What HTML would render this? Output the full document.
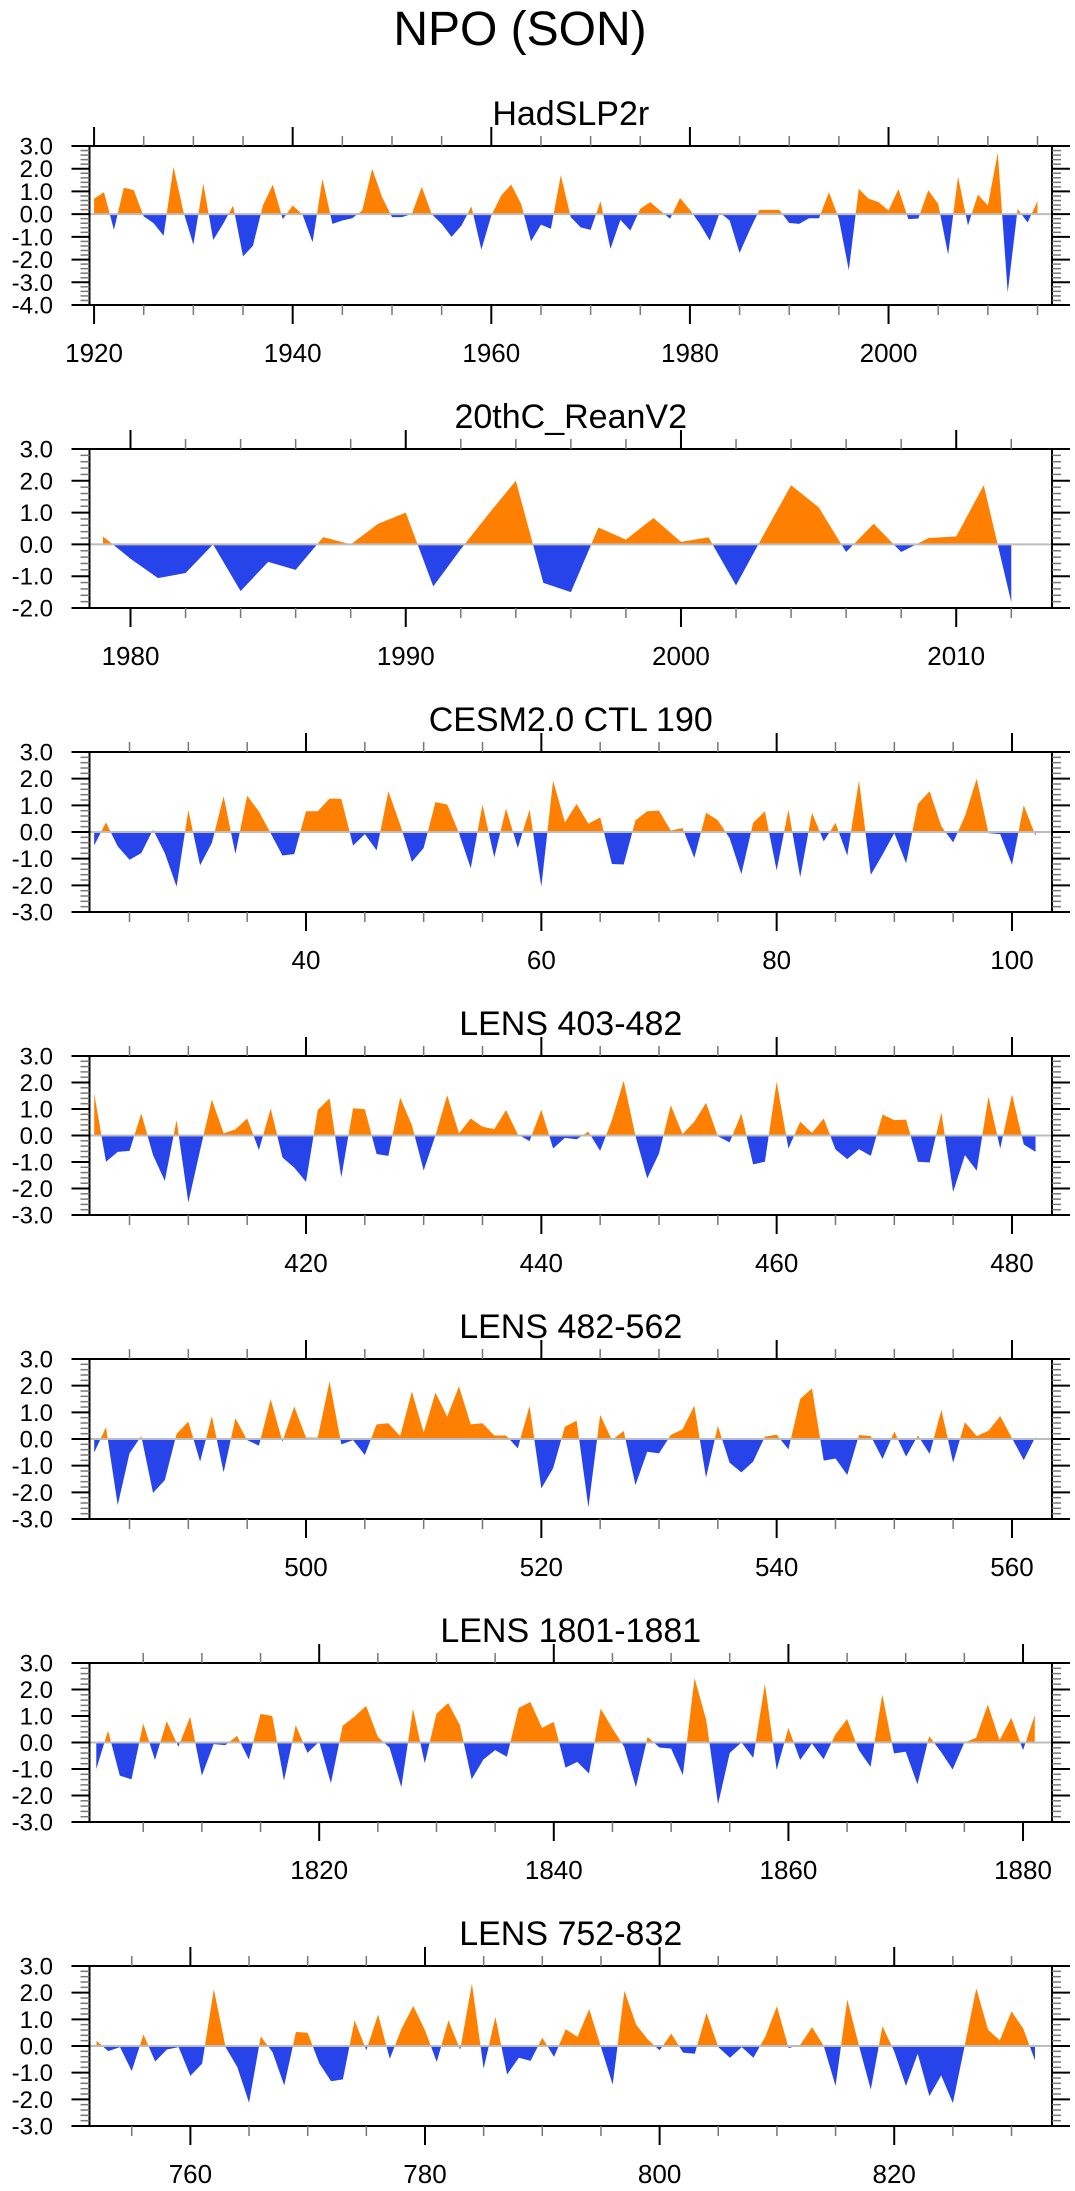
<!DOCTYPE html>
<html><head><meta charset="utf-8"><title>NPO (SON)</title>
<style>
html,body{margin:0;padding:0;background:#fff;}
svg{display:block;font-family:"Liberation Sans",Arial,sans-serif;}
</style></head>
<body>
<svg id="fig" width="1075" height="2191" viewBox="0 0 1075 2191" xmlns="http://www.w3.org/2000/svg">
<text x="520" y="45" font-size="48" text-anchor="middle">NPO (SON)</text>
</svg>
<script>
// ---- data arrays ----
const hadStart = 1920;
const hadValues = [0.68,0.97,-0.69,1.17,1.05,-0.1,-0.4,-0.95,2.08,0.1,-1.34,1.34,-1.14,-0.43,0.38,-1.86,-1.39,0.38,1.3,-0.22,0.38,-0.03,-1.24,1.56,-0.43,-0.28,-0.18,0.16,2.0,0.75,-0.13,-0.13,0.01,1.2,0,-0.43,-1.0,-0.5,0.34,-1.56,-0.06,0.82,1.3,0.45,-1.2,-0.46,-0.65,1.71,-0.13,-0.58,-0.69,0.57,-1.53,-0.25,-0.72,0.23,0.53,0.16,-0.2,0.71,0.19,-0.43,-1.16,0.07,-0.28,-1.71,-0.72,0.19,0.19,0.19,-0.39,-0.43,-0.18,-0.18,0.97,-0.2,-2.47,1.11,0.68,0.53,0.16,1.1,-0.22,-0.19,1.05,0.45,-1.78,1.65,-0.5,0.86,0.38,2.7,-3.45,0.23,-0.37,0.57];
const reanStart = 1979;
const reanValues = [0.25,-0.45,-1.06,-0.9,0,-1.47,-0.55,-0.8,0.23,0,0.65,1.0,-1.32,-0.15,0.95,2.0,-1.21,-1.5,0.53,0.15,0.83,0.08,0.22,-1.29,0.3,1.86,1.17,-0.24,0.65,-0.24,0.2,0.25,1.86,-1.82];
const cesmStart = 22;
const cesmValues = [-0.5,0.36,-0.54,-1.04,-0.79,0.09,-0.79,-2.05,0.82,-1.25,-0.41,1.34,-0.82,1.36,0.77,-0.05,-0.88,-0.83,0.78,0.78,1.25,1.24,-0.51,-0.08,-0.69,1.53,0.28,-1.12,-0.6,1.12,1.03,-0.04,-1.36,1.02,-0.95,0.88,-0.6,0.84,-2.05,1.93,0.36,1.05,0.31,0.55,-1.2,-1.22,0.44,0.78,0.8,0.05,0.15,-0.97,0.72,0.44,-0.23,-1.58,0.34,0.78,-1.44,0.84,-1.7,0.72,-0.35,0.34,-0.88,1.93,-1.61,-0.85,-0.04,-1.17,1.05,1.53,0.21,-0.39,0.59,2.0,-0.04,-0.08,-1.23,1.0,-0.14];
const lens403Start = 402;
const lens403Values = [1.58,-0.99,-0.62,-0.58,0.83,-0.74,-1.71,0.58,-2.53,-0.55,1.36,0.08,0.23,0.64,-0.55,1.02,-0.83,-1.21,-1.75,0.96,1.4,-1.58,1.03,0.99,-0.7,-0.77,1.43,0.39,-1.32,0.0,1.52,0.08,0.64,0.33,0.24,0.96,0.04,-0.21,0.97,-0.49,-0.09,-0.14,0.14,-0.58,0.58,2.06,-0.02,-1.62,-0.68,1.14,0.05,0.52,1.23,-0.03,-0.26,0.83,-1.09,-0.99,2.03,-0.49,0.52,0.1,0.64,-0.53,-0.89,-0.52,-0.77,0.79,0.58,0.6,-0.99,-1.02,0.87,-2.13,-0.74,-1.33,1.46,-0.49,1.55,-0.34,-0.62];
const lens482Start = 482;
const lens482Values = [-0.51,0.44,-2.48,-0.54,0.11,-2.02,-1.54,0.19,0.65,-0.85,0.86,-1.25,0.78,-0.04,-0.25,1.49,-0.1,1.22,0.05,0.05,2.16,-0.2,-0.04,-0.6,0.55,0.59,0.11,1.78,0.24,1.74,0.84,1.97,0.55,0.59,0.13,0.13,-0.35,1.24,-1.85,-1.1,0.46,0.69,-2.57,0.9,-0.04,0.3,-1.73,-0.48,-0.54,0.15,0.36,1.25,-1.45,0.49,-0.89,-1.25,-0.85,0.09,0.16,-0.39,1.5,1.9,-0.81,-0.73,-1.35,0.15,0.11,-0.75,0.28,-0.66,0.13,-0.56,1.09,-0.89,0.63,0.11,0.31,0.86,0.03,-0.79,0.09];
const lens1801Start = 1801;
const lens1801Values = [-1.0,0.45,-1.25,-1.39,0.72,-0.66,0.8,-0.16,0.97,-1.25,-0.06,-0.1,0.25,-0.64,1.08,1.0,-1.44,0.65,-0.39,0.03,-1.54,0.63,0.97,1.38,0.21,-0.2,-1.69,1.28,-0.79,1.09,1.49,0.65,-1.39,-0.64,-0.29,-0.54,1.3,1.53,0.55,0.78,-0.95,-0.73,-1.17,1.28,0.53,-0.16,-1.69,0.21,-0.19,-0.23,-1.23,2.43,0.84,-2.33,-0.39,0,-0.58,2.22,-1.04,0.55,-0.66,-0.04,-0.63,0.3,0.88,-0.29,-0.92,1.81,-0.41,-0.35,-1.58,0.24,-0.35,-1.02,0,0.18,1.43,0.09,0.93,-0.29,1.03];
const lens752Start = 752;
const lens752Values = [0.19,-0.19,-0.04,-0.94,0.43,-0.58,-0.13,-0.04,-1.12,-0.66,2.13,-0.04,-0.79,-2.13,0.36,-0.23,-1.48,0.53,0.49,-0.66,-1.32,-1.25,0.96,-0.16,1.18,-0.48,0.65,1.5,0.59,-0.6,0.96,-0.14,2.34,-0.85,1.09,-1.07,-0.44,-0.56,0.31,-0.41,0.63,0.34,1.38,-0.04,-1.45,2.07,0.8,0.24,-0.16,0.46,-0.25,-0.29,1.24,-0.04,-0.44,-0.04,-0.44,0.34,1.49,-0.08,0.05,0.71,-0.01,-1.5,1.74,0,-1.63,0.74,-0.2,-1.5,-0.29,-1.88,-1.1,-2.14,0,2.16,0.61,0.21,1.3,0.65,-0.54];

const panelTitles = ["HadSLP2r","20thC_ReanV2","CESM2.0 CTL 190","LENS 403-482","LENS 482-562","LENS 1801-1881","LENS 752-832"];
const panelStarts = [hadStart, reanStart, cesmStart, lens403Start, lens482Start, lens1801Start, lens752Start];
const panelSeries = [hadValues, reanValues, cesmValues, lens403Values, lens482Values, lens1801Values, lens752Values];
const xTickLabels = [[1920,1940,1960,1980,2000],[1980,1990,2000,2010],[40,60,80,100],[420,440,460,480],[500,520,540,560],[1820,1840,1860,1880],[760,780,800,820]];
const yTickLabels = [[3,2,1,0,-1,-2,-3,-4],[3,2,1,0,-1,-2],[3,2,1,0,-1,-2,-3],[3,2,1,0,-1,-2,-3],[3,2,1,0,-1,-2,-3],[3,2,1,0,-1,-2,-3],[3,2,1,0,-1,-2,-3]];

// ---- layout (not data) ----
const panelTops = [146,449,752,1056,1359,1663,1966];
const panelBottoms = [305,608,912,1215,1519,1822,2126];
const xDomains = [[1919.54,2016.46],[1978.51,2013.48],[21.6,103.4],[401.6,483.4],[481.6,563.4],[1800.42,1882.47],[751.4,833.45]];
const xMinorStep = [5,2,5,5,5,5,5];
const L = 89.5, R = 1052;
const NS = "http://www.w3.org/2000/svg";
const svg = document.getElementById('fig');
const ORANGE = "#ff8000", BLUE = "#2744ea";

function mk(tag, attrs, parent){
  const e = document.createElementNS(NS, tag);
  for (const k in attrs) e.setAttribute(k, attrs[k]);
  (parent||svg).appendChild(e);
  return e;
}

for (let p = 0; p < 7; p++) {
  const top = panelTops[p], bot = panelBottoms[p];
  const ys = yTickLabels[p];
  const ymax = ys[0], ymin = ys[ys.length-1];
  const dom = xDomains[p];
  const xs = v => L + (v - dom[0]) / (dom[1] - dom[0]) * (R - L);
  const yv = v => top + (ymax - v) / (ymax - ymin) * (bot - top);
  const g = mk('g', {});
  
  

  const t = mk('text', {x: (L+R)/2, y: top-21, 'font-size': 34, 'text-anchor': 'middle'}, g);
  t.textContent = panelTitles[p];
  
  

  const vals = panelSeries[p], start = panelStarts[p];
  const z = yv(0);
  let d = 'M' + xs(start).toFixed(2) + ',' + z.toFixed(2);
  vals.forEach((v, i) => { d += ' L' + xs(start+i).toFixed(2) + ',' + yv(v).toFixed(2); });
  d += ' L' + xs(start+vals.length-1).toFixed(2) + ',' + z.toFixed(2) + ' Z';
  const cid = 'cp' + p;
  const defs = mk('defs', {}, g);
  const c1 = mk('clipPath', {id: cid+'a'}, defs); mk('rect', {x: L, y: top-5, width: R-L, height: z-top+5}, c1);
  const c2 = mk('clipPath', {id: cid+'b'}, defs); mk('rect', {x: L, y: z, width: R-L, height: bot-z+5}, c2);
  const a1 = mk('path', {d: d, fill: ORANGE, 'clip-path': 'url(#'+cid+'a)'}, g);
  
  
  const a2 = mk('path', {d: d, fill: BLUE, 'clip-path': 'url(#'+cid+'b)'}, g);
  
  
  const zl = mk('line', {x1: L, x2: R, y1: z, y2: z, stroke: '#bdbdbd', 'stroke-width': 2}, g);
  
  

  const box = mk('rect', {x: L, y: top, width: R-L, height: bot-top, fill: 'none', stroke: '#000', 'stroke-width': 2}, g);
  
  

  for (let v = ymin; v <= ymax + 1e-9; v += 0.2) {
    const yy = yv(v);
    const major = Math.abs(v - Math.round(v)) < 1e-6;
    const len = major ? 18 : 9;
    mk('line', {x1: L-len, x2: L, y1: yy, y2: yy, stroke: major ? '#000' : '#777', 'stroke-width': major ? 2 : 1.5}, g);
    mk('line', {x1: R, x2: R+len, y1: yy, y2: yy, stroke: major ? '#000' : '#777', 'stroke-width': major ? 2 : 1.5}, g);
  }
  ys.forEach(v => {
    const lt = mk('text', {x: 53, y: yv(v)+8.5, 'font-size': 24, 'text-anchor': 'end'}, g);
    lt.textContent = v.toFixed(1);
    
    
  });
  const step = xMinorStep[p];
  for (let v = Math.ceil(dom[0]/step)*step; v <= dom[1]; v += step) {
    const xx = xs(v);
    const major = (p===1) ? (v%10===0) : (v%20===0);
    const len = major ? 19 : 10;
    mk('line', {x1: xx, x2: xx, y1: bot, y2: bot+len, stroke: major ? '#000' : '#777', 'stroke-width': major ? 2 : 1.5}, g);
    mk('line', {x1: xx, x2: xx, y1: top-len, y2: top, stroke: major ? '#000' : '#777', 'stroke-width': major ? 2 : 1.5}, g);
  }
  xTickLabels[p].forEach(v => {
    const lt = mk('text', {x: xs(v), y: bot+57, 'font-size': 26, 'text-anchor': 'middle'}, g);
    lt.textContent = String(v);
    
    
  });
}
</script>
</body></html>
